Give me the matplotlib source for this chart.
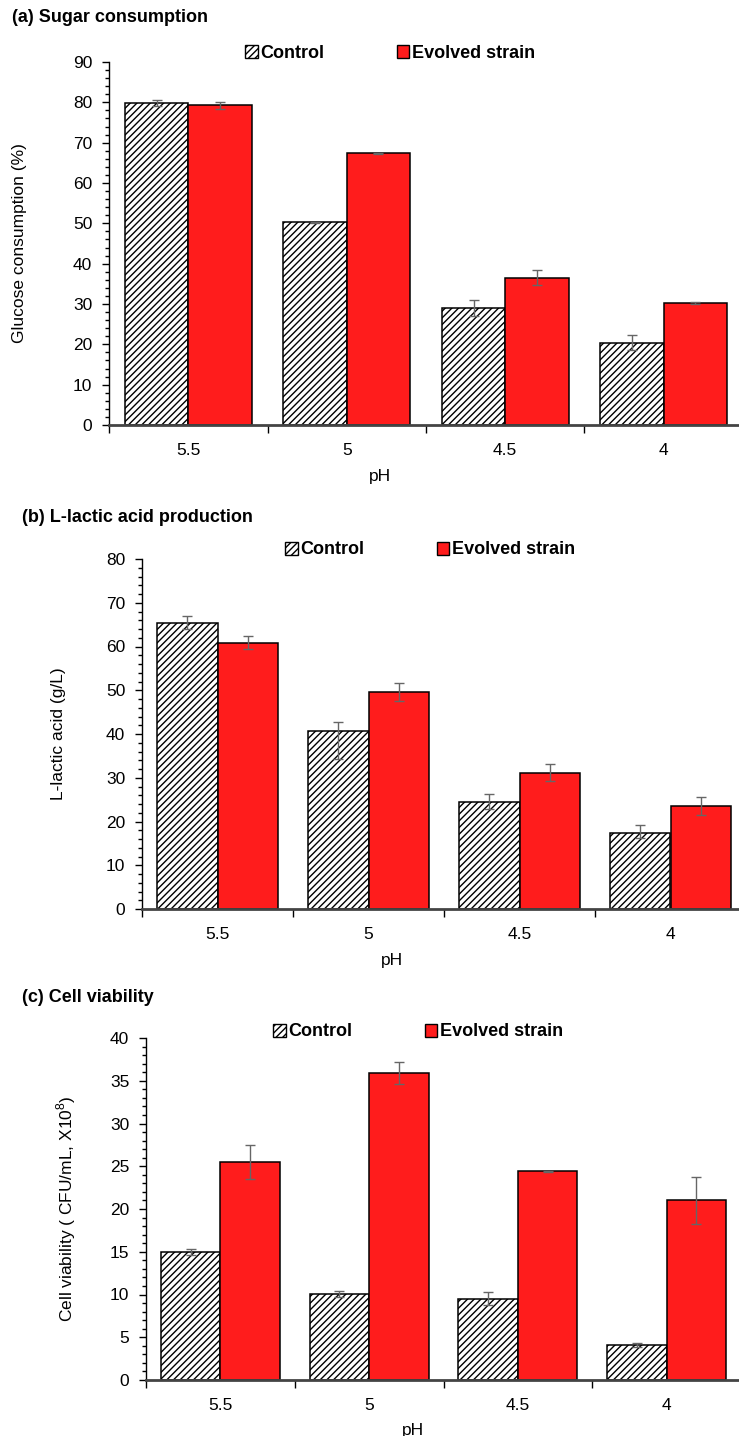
import matplotlib.pyplot as plt
import matplotlib.ticker as mticker
from matplotlib.patches import Patch
import numpy as np

ph_labels = ["5.5", "5", "4.5", "4"]

glucose_control = [79.8, 50.3, 29.1, 20.4]
glucose_control_err = [0.8, 0.1, 2.0, 1.8]
glucose_evolved = [79.3, 67.4, 36.5, 30.3]
glucose_evolved_err = [0.9, 0.1, 1.9, 0.3]

lactic_control = [65.4, 40.6, 24.4, 17.4]
lactic_control_err_low = [1.5, 6.4, 1.6, 1.2]
lactic_control_err_up = [1.5, 2.2, 1.9, 1.9]
lactic_evolved = [60.9, 49.6, 31.2, 23.5]
lactic_evolved_err = [1.5, 2.0, 1.9, 2.0]

viability_control = [15.0, 10.1, 9.5, 4.1]
viability_control_err = [0.35, 0.35, 0.75, 0.2]
viability_evolved = [25.5, 35.9, 24.4, 21.0]
viability_evolved_err = [2.0, 1.3, 0.1, 2.8]

plt.rcParams["font.family"] = ["Liberation Sans", "DejaVu Sans"]
plt.rcParams["mathtext.fontset"] = "custom"
plt.rcParams["mathtext.rm"] = "Liberation Sans"
plt.rcParams["hatch.linewidth"] = 1.0
plt.rcParams["hatch.color"] = "#333333"

W, H = 739, 1436
RED = "#FF1C1C"
HATCH = "/////"


def px_axes(fig, left, right, top, bottom):
    return fig.add_axes([left / W, 1 - bottom / H, (right - left) / W, (bottom - top) / H])


def panel(fig, box, control, control_err, evolved, evolved_err, ymax, ystep, yminor,
          ylabel, title, title_pos, legend_x, legend_y, ylabel_x, xlabel_pos):
    ax = px_axes(fig, *box)
    x = np.arange(len(ph_labels)) + 0.5
    ekw = dict(ecolor="#666666", elinewidth=1.0, capsize=3.5, capthick=1.0)
    ax.bar(x - 0.2, control, 0.4, yerr=control_err, facecolor="white", edgecolor="black",
           hatch=HATCH, linewidth=1.1, error_kw=ekw, zorder=2)
    ax.bar(x + 0.2, evolved, 0.4, yerr=evolved_err, color=RED, edgecolor="black",
           linewidth=1.1, error_kw=ekw, zorder=2)

    ax.set_xlim(0, len(ph_labels))
    ax.set_ylim(0, ymax)
    ax.yaxis.set_major_locator(mticker.MultipleLocator(ystep))
    ax.yaxis.set_minor_locator(mticker.MultipleLocator(yminor))
    ax.set_xticks(np.arange(len(ph_labels) + 1))
    ax.set_xticklabels([])
    ax.set_xticks(x, minor=True)
    ax.set_xticklabels(ph_labels, minor=True)
    ax.tick_params(axis="x", which="major", length=6, width=1, color="black")
    ax.tick_params(axis="x", which="minor", length=0, pad=13, labelsize=12.5)
    ax.tick_params(axis="y", which="major", length=5, width=1, pad=7, labelsize=12.5)
    ax.tick_params(axis="y", which="minor", length=3, width=1)

    for s in ["top", "right"]:
        ax.spines[s].set_visible(False)
    ax.spines["left"].set_linewidth(1.0)
    ax.spines["bottom"].set_linewidth(2.0)
    ax.spines["bottom"].set_color("#444444")

    fig.text(title_pos[0] / W, 1 - title_pos[1] / H, title, fontsize=13, fontweight="bold",
             ha="left", va="center")
    fig.text(ylabel_x / W, 1 - (box[2] + box[3]) / 2 / H, ylabel, fontsize=12.5,
             rotation=90, ha="center", va="center")
    fig.text(xlabel_pos[0] / W, 1 - xlabel_pos[1] / H, "pH", fontsize=12.5,
             ha="center", va="center")

    handles = [Patch(facecolor="white", edgecolor="black", hatch=HATCH, linewidth=1.0),
               Patch(facecolor=RED, edgecolor="black", linewidth=1.0)]
    fig.legend(handles, ["Control", "Evolved strain"], ncol=2, frameon=False,
               loc="center left", bbox_to_anchor=(legend_x / W, 1 - legend_y / H),
               prop={"weight": "bold", "size": 13}, handlelength=0.7, handleheight=0.7,
               handletextpad=0.15, columnspacing=4.0, borderaxespad=0, borderpad=0)
    return ax


fig = plt.figure(figsize=(W / 100, H / 100), dpi=100)

panel(fig, (109, 743, 62, 425), glucose_control, glucose_control_err,
      glucose_evolved, glucose_evolved_err, 90, 10, 2,
      "Glucose consumption (%)", "(a) Sugar consumption", (12, 17), 245, 53, 20, (380, 477))

panel(fig, (142, 746, 559, 909), lactic_control, [lactic_control_err_low, lactic_control_err_up],
      lactic_evolved, lactic_evolved_err, 80, 10, 2,
      "L-lactic acid (g/L)", "(b) L-lactic acid production", (22, 517), 285, 550, 59, (392, 960))

panel(fig, (146, 741, 1038, 1380), viability_control, viability_control_err,
      viability_evolved, viability_evolved_err, 40, 5, 1,
      r"Cell viability ( CFU/mL, X10$^{8}$)", "(c) Cell viability", (22, 998), 273, 1032, 66, (413, 1430))

fig.savefig("out.png", dpi=100)
